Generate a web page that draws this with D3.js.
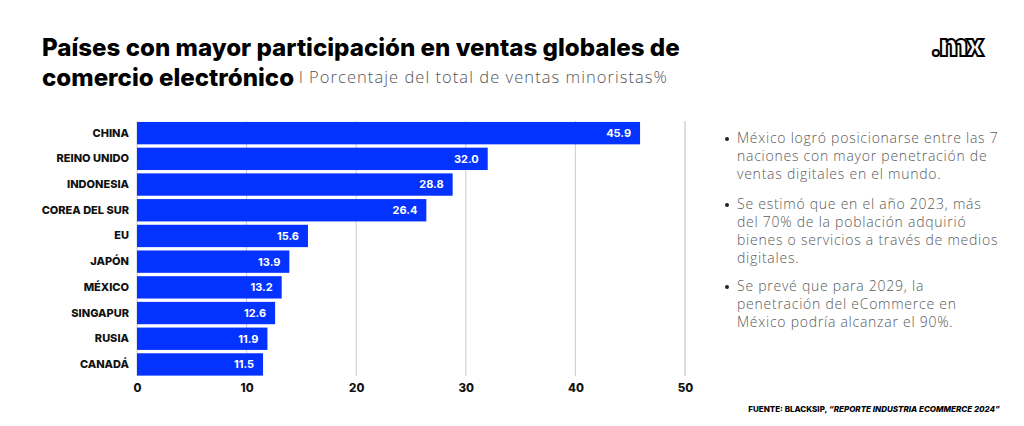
<!DOCTYPE html>
<html>
<head>
<meta charset="utf-8">
<script src="https://cdn.jsdelivr.net/npm/d3@7"></script>
<style>
  body { margin: 0; background: #fff; }
  svg { display: block; }
</style>
</head>
<body>
<div class="chart"></div>
<script>
// datos
var paises = ["CHINA", "REINO UNIDO", "INDONESIA", "COREA DEL SUR", "EU", "JAPÓN", "MÉXICO", "SINGAPUR", "RUSIA", "CANADÁ"];
var valores = [45.9, 32.0, 28.8, 26.4, 15.6, 13.9, 13.2, 12.6, 11.9, 11.5];
var ticks = [0, 10, 20, 30, 40, 50];
var notas = [
    ["México logró posicionarse entre las 7", "naciones con mayor penetración de", "ventas digitales en el mundo."],
    ["Se estimó que en el año 2023, más", "del 70% de la población adquirió", "bienes o servicios a través de medios", "digitales."],
    ["Se prevé que para 2029, la", "penetración del eCommerce en", "México podría alcanzar el 90%."]
];

var width = 1024;
var height = 426;
var azul = "#0433ff";

var svg = d3.select(".chart").append("svg")
    .attr("width", width).attr("height", height);

// titulo
var titulo = svg.append("g").attr("font-family", "Inter, 'Open Sans', sans-serif");
var t1 = titulo.append("text")
    .attr("x", 42).attr("y", 56)
    .attr("font-size", 22).attr("font-weight", 800).attr("fill", "#000")
    .text("Países con mayor participación en ventas globales de");
// ajustar tamaño al ancho del original
var fs = 22 * 638 / t1.node().getComputedTextLength();
t1.attr("font-size", fs);
titulo.append("text")
    .attr("x", 42).attr("y", 86)
    .attr("font-size", fs).attr("font-weight", 800).attr("fill", "#000")
    .text("comercio electrónico");
titulo.append("text")
    .attr("x", 299).attr("y", 83)
    .attr("font-size", 16.5).attr("font-weight", 300).attr("fill", "#555")
    .attr("font-family", "'Open Sans', sans-serif")
    .attr("letter-spacing", 1.05)
    .text("l Porcentaje del total de ventas minoristas%");

// logo
svg.append("text")
    .attr("x", 982).attr("y", 56)
    .attr("text-anchor", "end")
    .attr("font-family", "Inter, sans-serif")
    .attr("font-size", 30).attr("font-weight", 900)
    .attr("fill", "#fff").attr("stroke", "#000").attr("stroke-width", 2)
    .attr("letter-spacing", -2)
    .text(".mx");

// escalas
var x = d3.scaleLinear().domain([0, 50]).range([137, 685]);
var y = d3.scaleBand().domain(paises).range([120.3, 377.3])
    .paddingInner(0.13).paddingOuter(0.065);

// rejilla
svg.append("g")
    .selectAll("line")
    .data(ticks)
    .enter().append("line")
    .attr("x1", function(d){ return x(d); })
    .attr("x2", function(d){ return x(d); })
    .attr("y1", 121).attr("y2", 376)
    .attr("stroke", function(d){ return d === 50 ? "#ddd" : "#ccc"; })
    .attr("stroke-width", function(d){ return d === 50 ? 2 : 1; });

// barras
svg.selectAll(".bar")
    .data(valores)
    .enter().append("rect")
    .attr("class", "bar")
    .attr("x", x(0))
    .attr("y", function(d, i){ return y(paises[i]); })
    .attr("width", function(d){ return x(d) - x(0); })
    .attr("height", y.bandwidth())
    .attr("fill", azul);

// etiquetas de valor
svg.selectAll(".val")
    .data(valores)
    .enter().append("text")
    .attr("class", "val")
    .attr("x", function(d){ return x(d) - 9; })
    .attr("y", function(d, i){ return y(paises[i]) + y.bandwidth() / 2; })
    .attr("dy", "0.35em")
    .attr("text-anchor", "end")
    .attr("font-family", "Inter, sans-serif")
    .attr("font-size", 11).attr("font-weight", 700).attr("fill", "#fff")
    .text(function(d){ return d.toFixed(1); });

// eje y
var yAxis = d3.axisLeft(y).tickSize(0).tickPadding(8);
svg.append("g")
    .attr("transform", "translate(" + x(0) + ",0)")
    .call(yAxis)
    .call(function(g){ g.select(".domain").remove(); })
    .selectAll("text")
    .attr("font-family", "Inter, sans-serif")
    .attr("font-size", 11).attr("font-weight", 800).attr("fill", "#111");

// eje x
var xAxis = d3.axisBottom(x).tickValues(ticks).tickSize(0).tickPadding(8);
svg.append("g")
    .attr("transform", "translate(0," + 376 + ")")
    .call(xAxis)
    .call(function(g){ g.select(".domain").remove(); })
    .selectAll("text")
    .attr("font-family", "Inter, sans-serif")
    .attr("font-size", 11.5).attr("font-weight", 800).attr("fill", "#111");

// notas
var inicio = [143, 209, 291];
var notasG = svg.append("g")
    .attr("font-family", "'Open Sans', sans-serif")
    .attr("font-size", 14).attr("font-weight", 300).attr("fill", "#5a5a5a")
    .attr("letter-spacing", 0.75);
notas.forEach(function(lineas, k){
    notasG.append("circle")
        .attr("cx", 727).attr("cy", inicio[k] - 4).attr("r", 2)
        .attr("fill", "#222");
    lineas.forEach(function(l, j){
        notasG.append("text")
            .attr("x", 737).attr("y", inicio[k] + j * 18)
            .text(l);
    });
});

// fuente
var fuente = svg.append("text")
    .attr("x", 1000).attr("y", 412)
    .attr("text-anchor", "end")
    .attr("font-family", "Inter, sans-serif")
    .attr("font-size", 8).attr("font-weight", 800).attr("fill", "#000");
fuente.append("tspan").text("FUENTE: BLACKSIP, ");
fuente.append("tspan").attr("font-style", "italic").text("\u201CREPORTE INDUSTRIA ECOMMERCE 2024\u201D");
</script>
</body>
</html>
